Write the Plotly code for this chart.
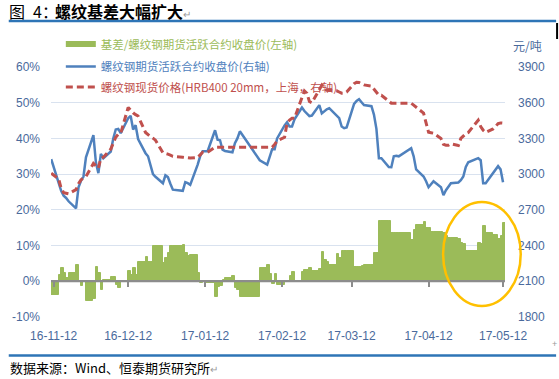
import plotly.graph_objects as go
import pandas as pd

# ---------------- data ----------------
dates = [
    "2016-11-11", "2016-11-14", "2016-11-15", "2016-11-16", "2016-11-17", "2016-11-18",
    "2016-11-21", "2016-11-22", "2016-11-23", "2016-11-24", "2016-11-25",
    "2016-11-28", "2016-11-29", "2016-11-30", "2016-12-01", "2016-12-02",
    "2016-12-05", "2016-12-06", "2016-12-07", "2016-12-08", "2016-12-09",
    "2016-12-12", "2016-12-13", "2016-12-14", "2016-12-15", "2016-12-16",
    "2016-12-19", "2016-12-20", "2016-12-21", "2016-12-22", "2016-12-23",
    "2016-12-26", "2016-12-27", "2016-12-28", "2016-12-29", "2016-12-30",
    "2017-01-03", "2017-01-04", "2017-01-05", "2017-01-06",
    "2017-01-09", "2017-01-10", "2017-01-11", "2017-01-12", "2017-01-13",
    "2017-01-16", "2017-01-17", "2017-01-18", "2017-01-19", "2017-01-20",
    "2017-01-23", "2017-01-24", "2017-01-25", "2017-01-26",
    "2017-02-03",
    "2017-02-06", "2017-02-07", "2017-02-08", "2017-02-09", "2017-02-10",
    "2017-02-13", "2017-02-14", "2017-02-15", "2017-02-16", "2017-02-17",
    "2017-02-20", "2017-02-21", "2017-02-22", "2017-02-23", "2017-02-24",
    "2017-02-27", "2017-02-28", "2017-03-01", "2017-03-02", "2017-03-03",
    "2017-03-06", "2017-03-07", "2017-03-08", "2017-03-09", "2017-03-10",
    "2017-03-13", "2017-03-14", "2017-03-15", "2017-03-16", "2017-03-17",
    "2017-03-20", "2017-03-21", "2017-03-22", "2017-03-23", "2017-03-24",
    "2017-03-27", "2017-03-28", "2017-03-29", "2017-03-30", "2017-03-31",
    "2017-04-05", "2017-04-06", "2017-04-07",
    "2017-04-10", "2017-04-11", "2017-04-12", "2017-04-13", "2017-04-14",
    "2017-04-17", "2017-04-18", "2017-04-19", "2017-04-20", "2017-04-21",
    "2017-04-24", "2017-04-25", "2017-04-26", "2017-04-27", "2017-04-28",
    "2017-05-02", "2017-05-03", "2017-05-04", "2017-05-05",
    "2017-05-08", "2017-05-09", "2017-05-10", "2017-05-11", "2017-05-12",
]

# 基差 / 期货收盘价 (%), left axis
basis_pct = [
    -3.9, 1.7, 3.6, 2.2, 0.8, 2.2,
    4.5, -0.3, -1.4, 0.0, -5.6,
    -5.0, 4.0, 2.2, -2.3, 0.3,
    1.1, 1.1, -1.1, -2.0, 0.0,
    3.0, 1.7, 3.7, 1.7, 5.3,
    6.7, 5.4, 5.4, 9.8, 9.8,
    5.0, 6.4, 7.8, 9.8, 9.8,
    10.3, 7.8, 7.2, 7.5,
    2.2, -0.5, -0.2, -0.4, -0.4,
    -4.5, -1.6, -1.2, 0.3, 1.0,
    1.4, -2.0, -2.4, -4.3,
    3.6,
    4.5, 2.0, -0.8, 2.0, -0.9,
    -0.3, -0.3, 1.6, 2.7, 0.2,
    2.5, 3.2, 3.2, 3.8, 2.9,
    3.5, 8.1, 5.9, 5.4, 4.7,
    7.7, 6.6, 8.4, 8.4, 8.4,
    3.9, 4.0, 4.0, 4.2, 4.6,
    4.6, 7.8, 7.8, 16.8, 16.8,
    16.8, 13.4, 13.4, 13.4, 13.4,
    11.7, 14.5, 15.8,
    16.5, 15.0, 15.0, 13.7, 13.7,
    13.7, 13.6, 12.6, 12.0, 12.0,
    11.8, 10.8, 10.5, 8.4, 8.4,
    10.7, 10.5, 15.5, 13.6,
    12.9, 12.9, 11.9, 12.8, 16.2,
]

# 螺纹钢期货活跃合约收盘价 (元/吨), right axis
futures_close = [
    3126, 2930, 2860, 2818, 2800, 2772,
    2713, 2890, 2945, 2980, 3142,
    3327, 3100, 3008, 3170, 3134,
    3190, 3300, 3375, 3380, 3344,
    3470, 3490, 3375, 3411, 3295,
    3176, 3150, 3080, 3000, 2978,
    2924, 2990, 2975, 2920, 2870,
    2860, 2932, 2924, 2910,
    3080, 3150, 3192, 3192, 3192,
    3369, 3290, 3285, 3205, 3195,
    3184, 3260, 3300, 3360,
    3117,
    3080, 3150, 3210, 3210, 3300,
    3410, 3436, 3400, 3400, 3461,
    3560, 3530, 3505, 3487, 3492,
    3580, 3510, 3530, 3545, 3554,
    3495, 3470, 3400, 3386, 3392,
    3590, 3615, 3629, 3604, 3580,
    3571, 3500, 3380, 3134, 3134,
    3060, 3058, 3150, 3155, 3150,
    3218, 3150, 3040,
    2980, 2940, 2890, 2915, 2941,
    2890, 2823, 2865, 2900, 2924,
    2930, 2950, 2980, 3060, 3100,
    3134, 3117, 2924, 2924,
    3016, 3040, 3067, 3040, 2932,
]

# 螺纹钢现货价格 (HRB400 20mm, 上海), right axis
spot_price = [
    3008, 2960, 2880, 2845, 2840, 2835,
    2870, 2920, 2952, 2965, 2980,
    3090, 3070, 3050, 3134, 3142,
    3210, 3260, 3310, 3335, 3344,
    3560, 3535, 3515, 3500, 3488,
    3350, 3330, 3315, 3302, 3285,
    3180, 3176, 3168, 3160, 3150,
    3142, 3140, 3138, 3135,
    3140, 3165, 3184, 3184, 3184,
    3226, 3226, 3226, 3226, 3226,
    3226, 3226, 3226, 3226,
    3226,
    3226, 3226, 3226, 3250, 3280,
    3310, 3428, 3455, 3470, 3470,
    3630, 3700, 3680, 3610, 3600,
    3710, 3747, 3720, 3705, 3705,
    3700, 3690, 3680, 3680, 3690,
    3760, 3772, 3770, 3762, 3750,
    3740, 3715, 3690, 3663, 3663,
    3610, 3596, 3596, 3596, 3596,
    3596, 3580, 3562,
    3512, 3430, 3352, 3348, 3344,
    3300, 3250, 3243, 3243, 3255,
    3240, 3300, 3320, 3340, 3350,
    3453, 3400, 3369, 3350,
    3380, 3400, 3425, 3430, 3428,
]

x_tick_dates = ["2016-11-12", "2016-12-12", "2017-01-12", "2017-02-12",
                "2017-03-12", "2017-04-12", "2017-05-12"]
left_ticks = [-10, 0, 10, 20, 30, 40, 50, 60]
left_tick_text = ["-10%", "0%", "10%", "20%", "30%", "40%", "50%", "60%"]
right_ticks = [1800, 2100, 2400, 2700, 3000, 3300, 3600, 3900]
right_tick_text = ["1800", "2100", "2400", "2700", "3000", "3300", "3600", "3900"]

name_basis = "基差/螺纹钢期货活跃合约收盘价(左轴)"
name_fut = "螺纹钢期货活跃合约收盘价(右轴)"
name_spot = "螺纹钢现货价格(HRB400 20mm，上海，右轴)"

# ---------------- styling ----------------
GREEN = "#9BBB59"
BLUE = "#4F81BD"
RED = "#C0504D"
TICK = "#4A6A9C"
GRID = "#D9E2EF"
AXIS = "#8C8C8C"
CJK = "Noto Sans CJK SC, sans-serif"
LAT = "Liberation Sans, Arial, sans-serif"

W, H = 559, 379
L, R, T, B = 43, 54, 67, 62
PW, PH = W - L - R, H - T - B


def px(x):
    return (x - L) / PW


def py(y):
    return (H - B - y) / PH


dt = pd.to_datetime(pd.Series(dates))
widths = list(dt.diff().shift(-1).dt.total_seconds().fillna(86400).mul(1000))

x_range = ["2016-11-10 22:00", "2017-05-12 19:00"]

fig = go.Figure()

fig.add_trace(go.Bar(
    x=dates, y=basis_pct, width=widths, offset=0,
    marker=dict(color=GREEN, line=dict(width=1, color=GREEN)),
    showlegend=False, xaxis="x", yaxis="y", name=name_basis,
))

# legend entry for the basis series (thick bar symbol); also carries axis x2
fig.add_trace(go.Scatter(
    x=[dates[0]], y=[None], mode="lines", xaxis="x2", yaxis="y",
    line=dict(color=GREEN, width=6),
    name=f"<span style='color:{GREEN}'>{name_basis}</span>", legend="legend",
))

fig.add_trace(go.Scatter(
    x=dates, y=futures_close, mode="lines", xaxis="x", yaxis="y2",
    line=dict(color=BLUE, width=2.5),
    name=f"<span style='color:{BLUE}'>{name_fut}</span>", legend="legend2",
))

fig.add_trace(go.Scatter(
    x=dates, y=spot_price, mode="lines", xaxis="x", yaxis="y2",
    line=dict(color=RED, width=3, dash="7px,4px"),
    name=f"<span style='color:{RED}'>{name_spot}</span>", legend="legend3",
))

legend_common = dict(xanchor="left", yanchor="middle", bgcolor="rgba(0,0,0,0)",
                     borderwidth=0, font=dict(family=CJK, size=11.5),
                     itemwidth=30)

fig.update_layout(
    width=W, height=H, autosize=False,
    margin=dict(l=L, r=R, t=T, b=B, pad=0),
    paper_bgcolor="white", plot_bgcolor="white",
    bargap=0,
    legend=dict(x=px(53), y=py(44), **legend_common),
    legend2=dict(x=px(53), y=py(66.5), **legend_common),
    legend3=dict(x=px(53), y=py(87), **legend_common),
    xaxis=dict(type="date", range=x_range, tickvals=x_tick_dates,
               tickformat="%y-%m-%d", showgrid=False, showline=False,
               zeroline=False, ticks="", ticklabelstandoff=10,
               tickfont=dict(family=LAT, size=12, color=TICK)),
    xaxis2=dict(type="date", range=x_range, overlaying="x", anchor="free",
                position=1 / 7, side="bottom", tickvals=x_tick_dates,
                showticklabels=False,
                ticks="outside", ticklen=5, tickwidth=1.5, tickcolor=AXIS,
                showline=True, linecolor=AXIS, linewidth=2,
                showgrid=False, zeroline=False),
    yaxis=dict(range=[-10, 60], tickvals=left_ticks, ticktext=left_tick_text,
               showgrid=True, gridcolor=GRID, gridwidth=1, zeroline=False,
               showline=False, ticks="", ticklabelstandoff=10,
               tickfont=dict(family=LAT, size=12, color=TICK)),
    yaxis2=dict(range=[1800, 3900], overlaying="y", side="right",
                tickvals=right_ticks, ticktext=right_tick_text,
                showgrid=False, zeroline=False, showline=False, ticks="",
                ticklabelstandoff=12,
                tickfont=dict(family=LAT, size=12, color=TICK)),
)

# title (two parts so that the bold part starts where it does in the original)
fig.add_annotation(
    xref="paper", yref="paper", x=px(-2), y=py(11), xanchor="left", yanchor="middle",
    text="图\u20024：", showarrow=False, font=dict(family=CJK, size=16, color="black"),
)
fig.add_annotation(
    xref="paper", yref="paper", x=px(45), y=py(11), xanchor="left", yanchor="middle",
    text="<b>螺纹基差大幅扩大</b><span style='color:#9a9a9a;font-size:10px'>↵</span>",
    showarrow=False, font=dict(family=CJK, size=16, color="black"),
)
fig.add_annotation(
    xref="paper", yref="paper", x=px(-1), y=py(367), xanchor="left", yanchor="middle",
    text="数据来源：Wind、恒泰期货研究所<span style='color:#9a9a9a;font-size:10px'>↵</span>",
    showarrow=False, font=dict(family=CJK, size=13, color="black"),
)
fig.add_annotation(
    xref="paper", yref="paper", x=px(528), y=py(46), xanchor="center", yanchor="middle",
    text="元/吨", showarrow=False, font=dict(family=CJK, size=12, color=TICK),
)
fig.add_annotation(
    xref="paper", yref="paper", x=px(555), y=py(344), xanchor="center", yanchor="middle",
    text="+", showarrow=False, font=dict(family=LAT, size=9, color="#999999"),
)

# zero line drawn above the columns, as in the original
fig.add_shape(type="line", xref="paper", yref="y", layer="above",
              x0=0, x1=1, y0=0, y1=0, line=dict(color=AXIS, width=2))

# frame lines of the document figure
fig.add_shape(type="line", xref="paper", yref="paper",
              x0=px(0), x1=px(557), y0=py(21), y1=py(21),
              line=dict(color="#2E75B6", width=2.5))
fig.add_shape(type="line", xref="paper", yref="paper",
              x0=px(0), x1=px(557), y0=py(355.5), y1=py(355.5),
              line=dict(color="#2E75B6", width=2.5))
fig.add_shape(type="line", xref="paper", yref="paper",
              x0=px(558), x1=px(558), y0=py(23), y1=py(39),
              line=dict(color="black", width=2))

# highlight ellipse
fig.add_shape(type="circle", xref="paper", yref="paper", layer="above",
              x0=px(442), x1=px(521), y0=py(306), y1=py(202),
              line=dict(color="#FFC000", width=2.5))

fig.write_html("out.html", config={"displayModeBar": False},
               post_script="document.body.style.margin='0';document.body.style.overflow='hidden';")
